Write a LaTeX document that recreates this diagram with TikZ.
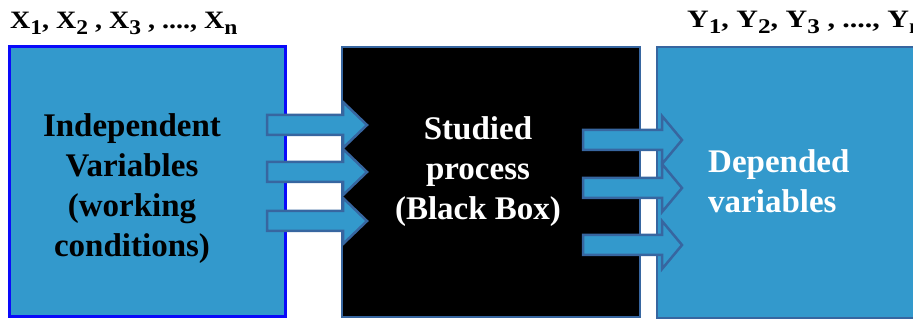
\documentclass[tikz,border=0pt]{standalone}
\usepackage{fontspec}
\setmainfont{Liberation Serif}[BoldFont={Liberation Serif Bold}]
\newfontfamily\tbold{Liberation Serif Bold}
\definecolor{boxblue}{RGB}{51,153,204}
\definecolor{edgeblue}{RGB}{55,102,160}
\definecolor{pureblue}{RGB}{10,10,250}
\newcommand\sbs[1]{\raisebox{-6pt}{\fontsize{21}{21}\selectfont #1}}
\newcommand\wide[2]{\scalebox{#1}[1]{#2}}
\newcommand\blockarrow[6]{\draw[arrowst] (#1,#4-#5) -- (#2,#4-#5) -- (#2,#4-#6) -- (#3,#4) -- (#2,#4+#6) -- (#2,#4+#5) -- (#1,#4+#5) -- cycle;}
\begin{document}
\begin{tikzpicture}[x=1pt,y=-1pt,
  bigtext/.style={font=\tbold\fontsize{33}{40}\selectfont, align=center, inner sep=0pt},
  toptext/.style={font=\tbold\fontsize{25}{28}\selectfont, inner sep=0pt, anchor=base west},
  arrowst/.style={draw=edgeblue, fill=boxblue, line width=2.5pt, line join=miter}]
\useasboundingbox (0,0) rectangle (913,320);
\fill[white] (0,0) rectangle (913,320);
% boxes
\node[draw=pureblue, line width=3pt, fill=boxblue, minimum width=276pt, minimum height=270pt, inner sep=0pt] (indep) at (147,182) {};
\node[draw=edgeblue, line width=2.5pt, fill=black, minimum width=298pt, minimum height=270pt, inner sep=0pt] (proc) at (491,182) {};
\draw[draw=edgeblue, line width=2.5pt, fill=boxblue] (657,47) rectangle (930,318);
\node[inner sep=0pt] (dep) at (785,182) {};
% arrows
\blockarrow{267}{343}{367}{125}{10}{23}
\blockarrow{267}{343}{367}{172}{10}{23}
\blockarrow{267}{343}{367}{221}{10}{23}
\blockarrow{583}{662}{682}{140}{10}{24}
\blockarrow{583}{662}{682}{188}{10}{24}
\blockarrow{583}{662}{682}{245}{10}{24}
% texts
\node[bigtext, anchor=base] (t1) at (132,257) {Independent\\Variables\\(working\\conditions)};
\node[bigtext, anchor=base, text=white] (t2) at (478,220) {Studied\\process\\(Black Box)};
\node[bigtext, anchor=base west, align=left, text=white] (t3) at (708,213) {Depended\\variables};
\node[toptext] (xl) at (10,29) {\wide{1.12}{X\sbs{1}, X\sbs{2} , X\sbs{3} , ...., X\sbs{n}}};
\node[toptext] (yl) at (687,28) {\wide{1.2}{Y\sbs{1}, Y\sbs{2}, Y\sbs{3} , ...., Y\sbs{n}}};
\end{tikzpicture}
\end{document}
